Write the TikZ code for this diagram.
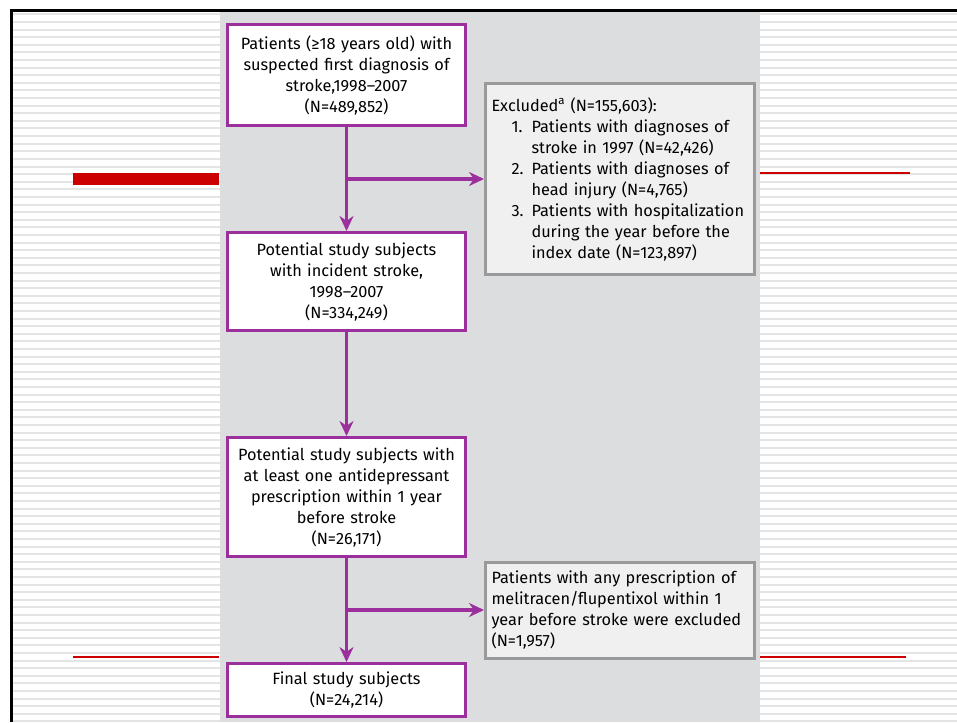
\documentclass[tikz,border=0pt]{standalone}
\usepackage{fontspec}
\setmainfont{Fira Sans}
\usetikzlibrary{arrows.meta,positioning,calc}
\definecolor{flowpurple}{HTML}{9B2F9B}
\definecolor{panelgray}{HTML}{DCDDDF}
\definecolor{stripegray}{HTML}{E4E4E4}
\definecolor{exclfill}{HTML}{F0F0F0}
\definecolor{excldraw}{HTML}{9A9A9A}
\definecolor{slidered}{HTML}{CC0000}

\begin{document}
\begin{tikzpicture}[
  x=1pt, y=-1pt,
  node distance=104pt,
  stage/.style={rectangle, draw=flowpurple, line width=3pt, fill=white, minimum width=238pt, text width=224pt, inner xsep=7pt, inner ysep=0pt, align=center, font=\fontsize{16.3}{21}\selectfont},
  excl/.style={rectangle, draw=excldraw, line width=3pt, fill=exclfill, minimum width=269pt, text width=257pt, inner xsep=6pt, inner ysep=0pt, align=left, font=\fontsize{16.3}{21}\selectfont},
  flow/.style={-{Stealth[length=15pt, width=14pt]}, line width=3.3pt, flowpurple},
]
\useasboundingbox (0,0) rectangle (957,722);
% slide background
\fill[white] (0,0) rectangle (957,722);
\foreach \y in {14.5,22.1,...,722} \draw[stripegray, line width=2pt] (12,\y) -- (957,\y);
\fill[panelgray] (220,12.5) rectangle (760,722);
\draw[line width=3pt] (11,722) -- (11,11) -- (957,11);
\fill[slidered] (73,173) rectangle (219,185);
\draw[slidered, line width=1.5pt] (760,173) -- (910,173);
\draw[slidered, line width=1.5pt] (73,657) -- (219,657);
\draw[slidered, line width=1.5pt] (760,657) -- (906,657);

% flow chart
\node[stage, minimum height=101pt] (a) at (346.5,75) {Patients (≥18 years old) with\\suspected first diagnosis of\\stroke,1998--2007\\(N=489,852)};
\node[stage, minimum height=98pt, below=of a] (b) {Potential study subjects\\with incident stroke,\\1998--2007\\(N=334,249)};
\node[stage, minimum height=119pt, below=of b] (c) {Potential study subjects with\\at least one antidepressant\\prescription within 1 year\\before stroke\\(N=26,171)};
\node[stage, minimum height=53pt, below=of c] (d) {Final study subjects\\(N=24,214)};

\coordinate (m1) at ($(a.south)!0.5!(b.north)$);
\coordinate (m2) at ($(c.south)!0.5!(d.north)$);
\coordinate (e1) at (m1 -| a.east);
\coordinate (e2) at (m2 -| c.east);

\node[excl, minimum height=190pt, right=17pt of e1] (x1) {Excluded\textsuperscript{a} (N=155,603):\\
\hspace*{20pt}\makebox[20pt][l]{1.}Patients with diagnoses of\\
\hspace*{40pt}stroke in 1997 (N=42,426)\\
\hspace*{20pt}\makebox[20pt][l]{2.}Patients with diagnoses of\\
\hspace*{40pt}head injury (N=4,765)\\
\hspace*{20pt}\makebox[20pt][l]{3.}Patients with hospitalization\\
\hspace*{40pt}during the year before the\\
\hspace*{40pt}index date (N=123,897)};
\node[excl, minimum height=96pt, right=17pt of e2] (x2) {Patients with any prescription of\\melitracen/flupentixol within 1\\year before stroke were excluded\\(N=1,957)};

\draw[flow] (a) -- (b);
\draw[flow] (b) -- (c);
\draw[flow] (c) -- (d);
\draw[flow] (m1) -- (x1);
\draw[flow] (m2) -- (x2);
\end{tikzpicture}
\end{document}
